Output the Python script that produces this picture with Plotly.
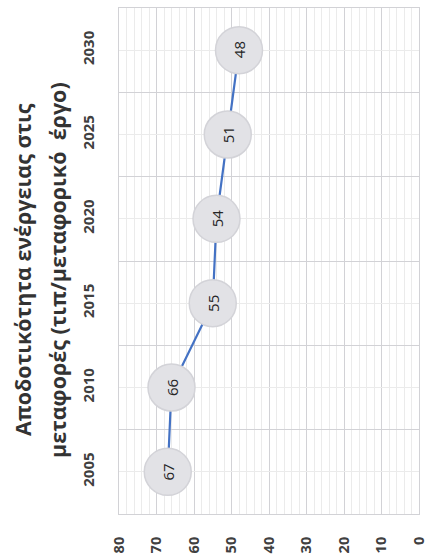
import plotly.graph_objects as go

# data: transport energy efficiency (toe / transport work)
years = [2005, 2010, 2015, 2020, 2025, 2030]
year_labels = ["2005", "2010", "2015", "2020", "2025", "2030"]
efficiency = [67, 66, 55, 54, 51, 48]
value_ticks = [0, 10, 20, 30, 40, 50, 60, 70, 80]

title_lines = ["Αποδοτικότητα ενέργειας στις", "μεταφορές (τιπ/μεταφορικό  έργο)"]

font_family = "Open Sans"
text_color = "#404040"

fig = go.Figure()

# line with big grey circle markers
fig.add_scatter(x=efficiency, y=years, mode="lines+markers",
                line=dict(color="#4472C4", width=2.2),
                marker=dict(size=47, color="#e2e2e6", line=dict(color="#d3d3d8", width=1.5)),
                showlegend=False, hoverinfo="skip")

# rotated value labels inside the circles
for v, yr in zip(efficiency, years):
    fig.add_annotation(x=v, y=yr, text=str(v), showarrow=False, textangle=-90,
                       font=dict(family=font_family, size=15, color="#262626"))

# title, rotated, to the left of the plot (one annotation per line)
for shift, line in zip([-97, -62], title_lines):
    fig.add_annotation(xref="paper", yref="paper", x=0, y=0.5, xshift=shift, yshift=-9,
                       text="<b>" + line + "</b>", showarrow=False, textangle=-90,
                       xanchor="center", yanchor="middle",
                       font=dict(family=font_family, size=21.5, color="#333333"))

fig.update_xaxes(range=[80, 0], tickvals=value_ticks, tickangle=-90, automargin=False,
                 tickfont=dict(family=font_family, size=14.5, color=text_color, weight="bold"),
                 ticklabeloverflow="allow",
                 showgrid=True, gridcolor="#d2d2d6", gridwidth=1,
                 minor=dict(dtick=2, showgrid=True, gridcolor="#ebebeb", gridwidth=1),
                 showline=True, mirror=True, linecolor="#d2d2d6", linewidth=1,
                 zeroline=False, ticks="", ticklabelstandoff=16)

fig.update_yaxes(range=[2002.5, 2032.5], tickvals=years, ticktext=year_labels, tickangle=-90,
                 automargin=False,
                 tickfont=dict(family=font_family, size=15, color=text_color, weight="bold"),
                 showgrid=True, gridcolor="#ebebeb", gridwidth=1,
                 minor=dict(tick0=2002.5, dtick=5, showgrid=True, gridcolor="#d2d2d6", gridwidth=1),
                 showline=True, mirror=True, linecolor="#d2d2d6", linewidth=1,
                 zeroline=False, ticks="", ticklabelstandoff=18)

fig.update_layout(width=428, height=558,
                  margin=dict(l=119, r=9, t=8, b=44),
                  plot_bgcolor="white", paper_bgcolor="white",
                  font=dict(family=font_family, color=text_color))

# drop the page's default body margin so the figure fills the window without scrollbars
fig.write_html("out.html", config={"displayModeBar": False},
               post_script="document.body.style.margin='0';document.body.style.overflow='hidden';")
